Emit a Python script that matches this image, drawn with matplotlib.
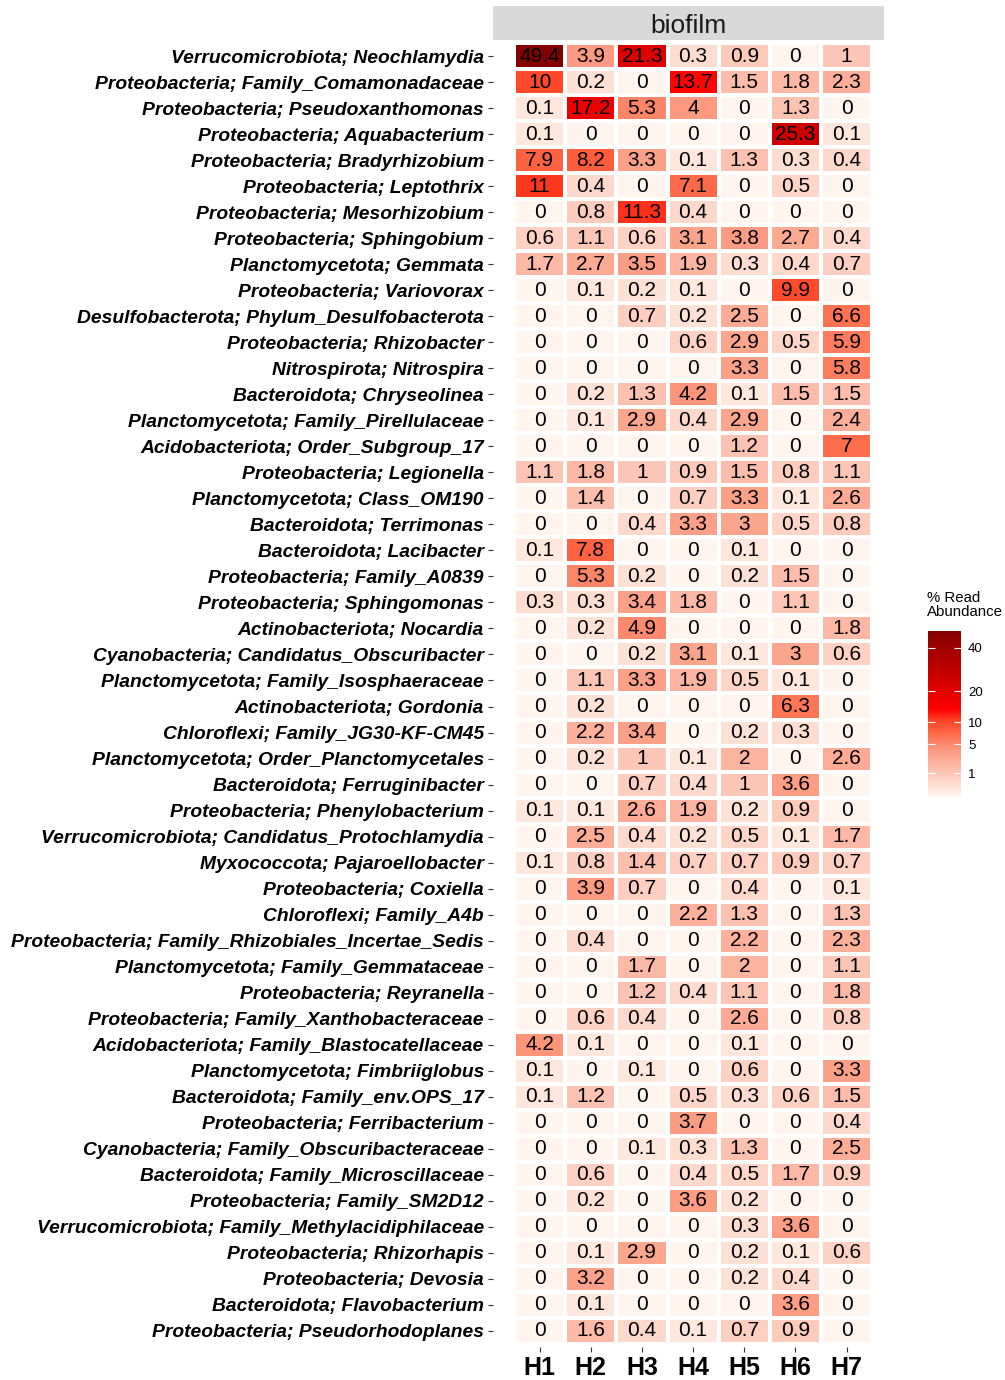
import matplotlib
matplotlib.use("Agg")
import matplotlib.pyplot as plt
import numpy as np
from matplotlib.colors import LinearSegmentedColormap, PowerNorm

plt.rcParams['font.family'] = ['Liberation Sans', 'DejaVu Sans']

samples = ['H1', 'H2', 'H3', 'H4', 'H5', 'H6', 'H7']

taxa = [
    'Verrucomicrobiota; Neochlamydia',
    'Proteobacteria; Family_Comamonadaceae',
    'Proteobacteria; Pseudoxanthomonas',
    'Proteobacteria; Aquabacterium',
    'Proteobacteria; Bradyrhizobium',
    'Proteobacteria; Leptothrix',
    'Proteobacteria; Mesorhizobium',
    'Proteobacteria; Sphingobium',
    'Planctomycetota; Gemmata',
    'Proteobacteria; Variovorax',
    'Desulfobacterota; Phylum_Desulfobacterota',
    'Proteobacteria; Rhizobacter',
    'Nitrospirota; Nitrospira',
    'Bacteroidota; Chryseolinea',
    'Planctomycetota; Family_Pirellulaceae',
    'Acidobacteriota; Order_Subgroup_17',
    'Proteobacteria; Legionella',
    'Planctomycetota; Class_OM190',
    'Bacteroidota; Terrimonas',
    'Bacteroidota; Lacibacter',
    'Proteobacteria; Family_A0839',
    'Proteobacteria; Sphingomonas',
    'Actinobacteriota; Nocardia',
    'Cyanobacteria; Candidatus_Obscuribacter',
    'Planctomycetota; Family_Isosphaeraceae',
    'Actinobacteriota; Gordonia',
    'Chloroflexi; Family_JG30-KF-CM45',
    'Planctomycetota; Order_Planctomycetales',
    'Bacteroidota; Ferruginibacter',
    'Proteobacteria; Phenylobacterium',
    'Verrucomicrobiota; Candidatus_Protochlamydia',
    'Myxococcota; Pajaroellobacter',
    'Proteobacteria; Coxiella',
    'Chloroflexi; Family_A4b',
    'Proteobacteria; Family_Rhizobiales_Incertae_Sedis',
    'Planctomycetota; Family_Gemmataceae',
    'Proteobacteria; Reyranella',
    'Proteobacteria; Family_Xanthobacteraceae',
    'Acidobacteriota; Family_Blastocatellaceae',
    'Planctomycetota; Fimbriiglobus',
    'Bacteroidota; Family_env.OPS_17',
    'Proteobacteria; Ferribacterium',
    'Cyanobacteria; Family_Obscuribacteraceae',
    'Bacteroidota; Family_Microscillaceae',
    'Proteobacteria; Family_SM2D12',
    'Verrucomicrobiota; Family_Methylacidiphilaceae',
    'Proteobacteria; Rhizorhapis',
    'Proteobacteria; Devosia',
    'Bacteroidota; Flavobacterium',
    'Proteobacteria; Pseudorhodoplanes',
]

# % read abundance, one row per taxon, columns H1..H7
abundance = [
    [49.4, 3.9, 21.3, 0.3, 0.9, 0, 1],
    [10, 0.2, 0, 13.7, 1.5, 1.8, 2.3],
    [0.1, 17.2, 5.3, 4, 0, 1.3, 0],
    [0.1, 0, 0, 0, 0, 25.3, 0.1],
    [7.9, 8.2, 3.3, 0.1, 1.3, 0.3, 0.4],
    [11, 0.4, 0, 7.1, 0, 0.5, 0],
    [0, 0.8, 11.3, 0.4, 0, 0, 0],
    [0.6, 1.1, 0.6, 3.1, 3.8, 2.7, 0.4],
    [1.7, 2.7, 3.5, 1.9, 0.3, 0.4, 0.7],
    [0, 0.1, 0.2, 0.1, 0, 9.9, 0],
    [0, 0, 0.7, 0.2, 2.5, 0, 6.6],
    [0, 0, 0, 0.6, 2.9, 0.5, 5.9],
    [0, 0, 0, 0, 3.3, 0, 5.8],
    [0, 0.2, 1.3, 4.2, 0.1, 1.5, 1.5],
    [0, 0.1, 2.9, 0.4, 2.9, 0, 2.4],
    [0, 0, 0, 0, 1.2, 0, 7],
    [1.1, 1.8, 1, 0.9, 1.5, 0.8, 1.1],
    [0, 1.4, 0, 0.7, 3.3, 0.1, 2.6],
    [0, 0, 0.4, 3.3, 3, 0.5, 0.8],
    [0.1, 7.8, 0, 0, 0.1, 0, 0],
    [0, 5.3, 0.2, 0, 0.2, 1.5, 0],
    [0.3, 0.3, 3.4, 1.8, 0, 1.1, 0],
    [0, 0.2, 4.9, 0, 0, 0, 1.8],
    [0, 0, 0.2, 3.1, 0.1, 3, 0.6],
    [0, 1.1, 3.3, 1.9, 0.5, 0.1, 0],
    [0, 0.2, 0, 0, 0, 6.3, 0],
    [0, 2.2, 3.4, 0, 0.2, 0.3, 0],
    [0, 0.2, 1, 0.1, 2, 0, 2.6],
    [0, 0, 0.7, 0.4, 1, 3.6, 0],
    [0.1, 0.1, 2.6, 1.9, 0.2, 0.9, 0],
    [0, 2.5, 0.4, 0.2, 0.5, 0.1, 1.7],
    [0.1, 0.8, 1.4, 0.7, 0.7, 0.9, 0.7],
    [0, 3.9, 0.7, 0, 0.4, 0, 0.1],
    [0, 0, 0, 2.2, 1.3, 0, 1.3],
    [0, 0.4, 0, 0, 2.2, 0, 2.3],
    [0, 0, 1.7, 0, 2, 0, 1.1],
    [0, 0, 1.2, 0.4, 1.1, 0, 1.8],
    [0, 0.6, 0.4, 0, 2.6, 0, 0.8],
    [4.2, 0.1, 0, 0, 0.1, 0, 0],
    [0.1, 0, 0.1, 0, 0.6, 0, 3.3],
    [0.1, 1.2, 0, 0.5, 0.3, 0.6, 1.5],
    [0, 0, 0, 3.7, 0, 0, 0.4],
    [0, 0, 0.1, 0.3, 1.3, 0, 2.5],
    [0, 0.6, 0, 0.4, 0.5, 1.7, 0.9],
    [0, 0.2, 0, 3.6, 0.2, 0, 0],
    [0, 0, 0, 0, 0.3, 3.6, 0],
    [0, 0.1, 2.9, 0, 0.2, 0.1, 0.6],
    [0, 3.2, 0, 0, 0.2, 0.4, 0],
    [0, 0.1, 0, 0, 0, 3.6, 0],
    [0, 1.6, 0.4, 0.1, 0.7, 0.9, 0],
]

cbar_ticks = [1, 5, 10, 20, 40]

data = np.array(abundance)

# white -> salmon -> red -> darkred, on a sqrt scale
cmap = LinearSegmentedColormap.from_list('reads', [
    (0.0, '#FFF5EE'),
    (0.28, '#FC9A80'),
    (0.38, '#FF6B4A'),
    (0.45, '#FF4A2A'),
    (0.53, '#FF0000'),
    (1.0, '#850000'),
])
norm = PowerNorm(gamma=0.5, vmin=0, vmax=data.max())

W, H = 1005, 1380
fig = plt.figure(figsize=(W / 100, H / 100), dpi=100)

# main panel (pixel box 493..884 x 40..1347)
ax = fig.add_axes([493 / W, 1 - 1347 / H, 391 / W, 1307 / H])
nrow, ncol = data.shape
mesh = ax.pcolormesh(np.arange(ncol + 1) - 0.5, np.arange(nrow + 1) - 0.5, data,
                     cmap=cmap, norm=norm, edgecolors='white', linewidth=1.6)
ax.set_xlim(-0.91, 6.73)
ax.set_ylim(nrow - 0.5 + 0.115, -0.615)

for i in range(nrow):
    for j in range(ncol):
        ax.text(j, i, f'{data[i, j]:g}', ha='center', va='center',
                fontsize=15, color='black')

ax.set_xticks(range(ncol))
ax.set_xticklabels(samples, fontsize=18, fontweight='bold')
ax.set_yticks(range(nrow))
ax.set_yticklabels(taxa, fontsize=13.9, fontweight='bold', style='italic')
ax.tick_params(axis='y', length=3.5, width=0.8, color='#333333', pad=3)
ax.tick_params(axis='x', length=3.5, width=0.8, color='#333333', pad=3)
for s in ax.spines.values():
    s.set_visible(False)

# facet strip
strip = fig.add_axes([493 / W, 1 - 40 / H, 391 / W, 34 / H])
strip.set_facecolor('#D9D9D9')
strip.set_xticks([])
strip.set_yticks([])
for s in strip.spines.values():
    s.set_visible(False)
strip.text(0.5, 0.4, 'biofilm', ha='center', va='center', fontsize=19,
           color='#1A1A1A', transform=strip.transAxes)

# colorbar
cax = fig.add_axes([928 / W, 1 - 797 / H, 33 / W, 166 / H])
cb = fig.colorbar(mesh, cax=cax, ticks=cbar_ticks)
cb.outline.set_visible(False)
cb.ax.tick_params(direction='in', color='white', length=5, width=0.8,
                  left=True, right=True, labelsize=9.5, pad=5)
cb.ax.set_yticklabels([str(t) for t in cbar_ticks])
fig.text(927 / W, 1 - 591 / H, '% Read\nAbundance', ha='left', va='top',
         fontsize=10.8, linespacing=1.0)

fig.savefig('out.png', dpi=100)
